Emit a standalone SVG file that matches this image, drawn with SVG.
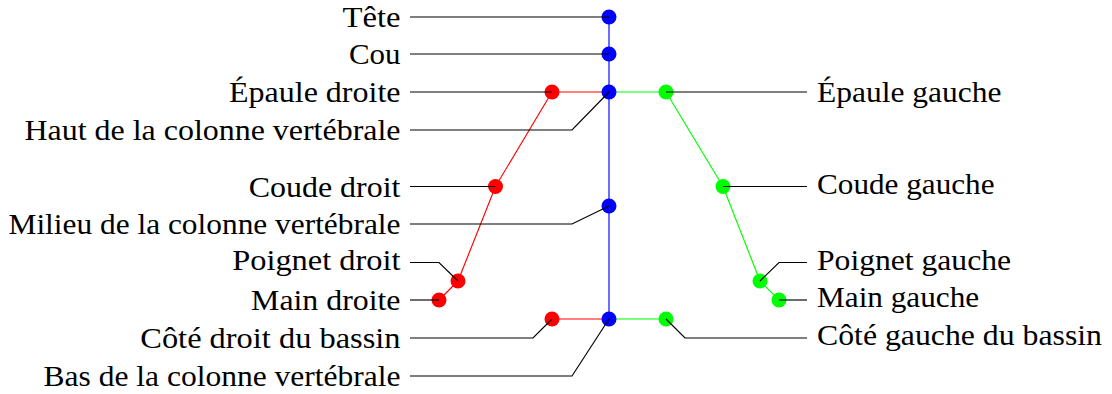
<svg xmlns="http://www.w3.org/2000/svg" width="1112" height="394" viewBox="0 0 1112 394">
<style>
.bg{fill:#ffffff}
.bone{fill:none;stroke-width:1.15;stroke-linejoin:round}
.b{stroke:#0000ff}.r{stroke:#ff0000}.g{stroke:#00ff00}
.jb{fill:#0000ff}.jr{fill:#ff0000}.jg{fill:#00ff00}
.lead{fill:none;stroke:#000000;stroke-width:1.15;stroke-linejoin:miter}
.lbl{font-family:"Liberation Serif","Times New Roman","DejaVu Serif",serif;font-size:29px;fill:#000000}
.L{text-anchor:end}
.R{text-anchor:start}
</style>
<rect class="bg" x="0" y="0" width="1112" height="394"/>
<g id="connectors">
<g id="skeleton">
<polyline class="bone b" points="609,17 609,54 609,92 609,206 609,319"/>
<polyline class="bone r" points="609,92 552,92 495.5,186.5 458,281 439,300"/>
<line class="bone r" x1="609" y1="319" x2="552" y2="319"/>
<polyline class="bone g" points="609,92 666,92 723,186.5 760,281 779,300"/>
<line class="bone g" x1="609" y1="319" x2="666" y2="319"/>
</g>
</g>
<g id="joints">
<g id="j-head"><circle class="jb" cx="609" cy="17" r="7.5"/></g>
<g id="j-neck"><circle class="jb" cx="609" cy="54" r="7.5"/></g>
<g id="j-spineshoulder"><circle class="jb" cx="609" cy="92" r="7.5"/></g>
<g id="j-spinemid"><circle class="jb" cx="609" cy="206" r="7.5"/></g>
<g id="j-spinebase"><circle class="jb" cx="609" cy="319" r="7.5"/></g>
<g id="j-rshoulder"><circle class="jr" cx="552" cy="92" r="7.5"/></g>
<g id="j-relbow"><circle class="jr" cx="495.5" cy="186.5" r="7.5"/></g>
<g id="j-rwrist"><circle class="jr" cx="458" cy="281" r="7.5"/></g>
<g id="j-rhand"><circle class="jr" cx="439" cy="300" r="7.5"/></g>
<g id="j-rhip"><circle class="jr" cx="552" cy="319" r="7.5"/></g>
<g id="j-lshoulder"><circle class="jg" cx="666" cy="92" r="7.5"/></g>
<g id="j-lelbow"><circle class="jg" cx="723" cy="186.5" r="7.5"/></g>
<g id="j-lwrist"><circle class="jg" cx="760" cy="281" r="7.5"/></g>
<g id="j-lhand"><circle class="jg" cx="779" cy="300" r="7.5"/></g>
<g id="j-lhip"><circle class="jg" cx="666" cy="319" r="7.5"/></g>
</g>
<g id="leaders">
<polyline class="lead" points="410,17 609,17"/>
<polyline class="lead" points="410,54 609,54"/>
<polyline class="lead" points="410,92 552,92"/>
<polyline class="lead" points="410,130 572,130 609,92"/>
<polyline class="lead" points="410,186.5 495.5,186.5"/>
<polyline class="lead" points="410,224 572,224 609,206"/>
<polyline class="lead" points="410,262.5 439,262.5 458,281"/>
<polyline class="lead" points="410,300 439,300"/>
<polyline class="lead" points="410,338 533,338 552,319"/>
<polyline class="lead" points="410,376 572,376 609,319"/>
<polyline class="lead" points="807,92 666,92"/>
<polyline class="lead" points="807,186.5 723,186.5"/>
<polyline class="lead" points="807,262.5 779,262.5 760,281"/>
<polyline class="lead" points="807,300 779,300"/>
<polyline class="lead" points="807,338 685,338 666,319"/>
</g>
<g id="labels">
<g id="l-tete"><text class="lbl L" x="400.5" y="26.8" textLength="58" lengthAdjust="spacingAndGlyphs">Tête</text></g>
<g id="l-cou"><text class="lbl L" x="400.5" y="63.8" textLength="51.6" lengthAdjust="spacingAndGlyphs">Cou</text></g>
<g id="l-epaule-d"><text class="lbl L" x="400.5" y="102.4" textLength="171.5" lengthAdjust="spacingAndGlyphs">Épaule droite</text></g>
<g id="l-haut"><text class="lbl L" x="400.5" y="140" textLength="376" lengthAdjust="spacingAndGlyphs">Haut de la colonne vertébrale</text></g>
<g id="l-coude-d"><text class="lbl L" x="400.5" y="196.5" textLength="151.8" lengthAdjust="spacingAndGlyphs">Coude droit</text></g>
<g id="l-milieu"><text class="lbl L" x="400.5" y="234" textLength="392" lengthAdjust="spacingAndGlyphs">Milieu de la colonne vertébrale</text></g>
<g id="l-poignet-d"><text class="lbl L" x="400.5" y="269.7" textLength="168.3" lengthAdjust="spacingAndGlyphs">Poignet droit</text></g>
<g id="l-main-d"><text class="lbl L" x="400.5" y="310" textLength="149.4" lengthAdjust="spacingAndGlyphs">Main droite</text></g>
<g id="l-cote-d"><text class="lbl L" x="400.5" y="348" textLength="260.2" lengthAdjust="spacingAndGlyphs">Côté droit du bassin</text></g>
<g id="l-bas"><text class="lbl L" x="400.5" y="386" textLength="357" lengthAdjust="spacingAndGlyphs">Bas de la colonne vertébrale</text></g>
<g id="l-epaule-g"><text class="lbl R" x="817" y="102.4" textLength="184.4" lengthAdjust="spacingAndGlyphs">Épaule gauche</text></g>
<g id="l-coude-g"><text class="lbl R" x="817" y="193.7" textLength="177.5" lengthAdjust="spacingAndGlyphs">Coude gauche</text></g>
<g id="l-poignet-g"><text class="lbl R" x="817" y="269.7" textLength="194" lengthAdjust="spacingAndGlyphs">Poignet gauche</text></g>
<g id="l-main-g"><text class="lbl R" x="817" y="307.2" textLength="162.2" lengthAdjust="spacingAndGlyphs">Main gauche</text></g>
<g id="l-cote-g"><text class="lbl R" x="817" y="345.2" textLength="285" lengthAdjust="spacingAndGlyphs">Côté gauche du bassin</text></g>
</g>
</svg>
